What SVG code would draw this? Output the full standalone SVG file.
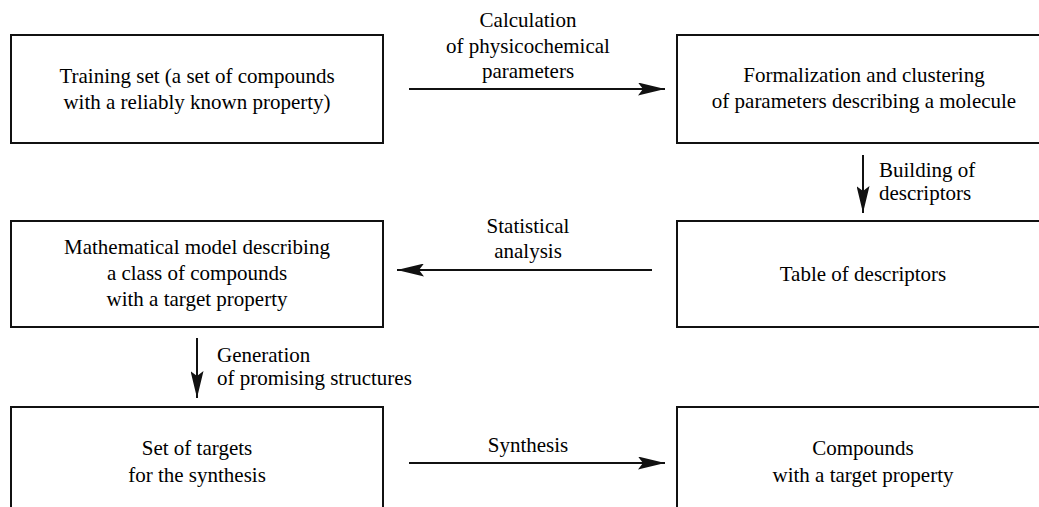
<svg xmlns="http://www.w3.org/2000/svg" width="1039" height="507" viewBox="0 0 1039 507" font-family="Liberation Serif" font-size="21">
<defs>
<marker id="arrowhead" viewBox="0 0 27 13" refX="27" refY="6.5" markerWidth="27" markerHeight="13" markerUnits="userSpaceOnUse" orient="auto">
<path d="M0,0 L27,6.5 L0,13 L5,6.5 Z" fill="#111"/>
</marker>
</defs>
<rect width="1039" height="507" fill="#fff"/>
<g id="training-set">
<rect x="11" y="35" width="372" height="108" fill="#fff" stroke="#111" stroke-width="2"/>
<text x="197" y="83" text-anchor="middle">Training set (a set of compounds</text>
<text x="197" y="109" text-anchor="middle">with a reliably known property)</text>
</g>
<g id="formalization">
<rect x="677" y="35" width="372" height="108" fill="#fff" stroke="#111" stroke-width="2"/>
<text x="864" y="82" text-anchor="middle">Formalization and clustering</text>
<text x="864" y="108" text-anchor="middle">of parameters describing a molecule</text>
</g>
<g id="math-model">
<rect x="11" y="221" width="372" height="106" fill="#fff" stroke="#111" stroke-width="2"/>
<text x="197" y="254" text-anchor="middle">Mathematical model describing</text>
<text x="197" y="280" text-anchor="middle">a class of compounds</text>
<text x="197" y="306" text-anchor="middle">with a target property</text>
</g>
<g id="descriptor-table">
<rect x="677" y="221" width="372" height="106" fill="#fff" stroke="#111" stroke-width="2"/>
<text x="863" y="281" text-anchor="middle">Table of descriptors</text>
</g>
<g id="target-set">
<rect x="11" y="407" width="372" height="110" fill="#fff" stroke="#111" stroke-width="2"/>
<text x="197" y="455" text-anchor="middle">Set of targets</text>
<text x="197" y="482" text-anchor="middle">for the synthesis</text>
</g>
<g id="compounds">
<rect x="677" y="407" width="372" height="110" fill="#fff" stroke="#111" stroke-width="2"/>
<text x="863" y="455" text-anchor="middle">Compounds</text>
<text x="863" y="482" text-anchor="middle">with a target property</text>
</g>
<g id="edges">
<line x1="409" y1="89" x2="665" y2="89" stroke="#111" stroke-width="2" marker-end="url(#arrowhead)"/>
<line x1="863" y1="155" x2="863" y2="213" stroke="#111" stroke-width="2" marker-end="url(#arrowhead)"/>
<line x1="652" y1="270" x2="397" y2="270" stroke="#111" stroke-width="2" marker-end="url(#arrowhead)"/>
<line x1="197" y1="338" x2="197" y2="398" stroke="#111" stroke-width="2" marker-end="url(#arrowhead)"/>
<line x1="409" y1="463" x2="665" y2="463" stroke="#111" stroke-width="2" marker-end="url(#arrowhead)"/>
<text x="528" y="27" text-anchor="middle">Calculation</text>
<text x="528" y="53" text-anchor="middle">of physicochemical</text>
<text x="528" y="78" text-anchor="middle">parameters</text>
<text x="879" y="177">Building of</text>
<text x="879" y="200">descriptors</text>
<text x="528" y="233" text-anchor="middle">Statistical</text>
<text x="528" y="258" text-anchor="middle">analysis</text>
<text x="217" y="362">Generation</text>
<text x="217" y="385">of promising structures</text>
<text x="528" y="452" text-anchor="middle">Synthesis</text>
</g>
</svg>
